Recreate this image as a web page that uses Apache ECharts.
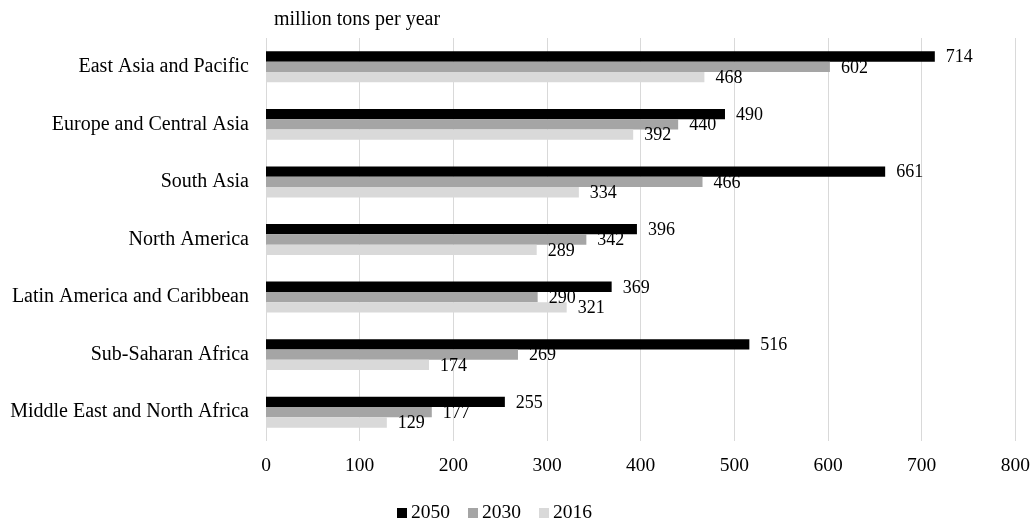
<!DOCTYPE html>
<html>
<head>
<meta charset="utf-8">
<script src="https://cdn.jsdelivr.net/npm/echarts@6/dist/echarts.min.js"></script>
<style>
  html, body { margin: 0; padding: 0; background: #fff; }
  #chart { width: 1033px; height: 520px; }
</style>
</head>
<body>
<div id="chart"></div>
<script>
// Regions, listed top to bottom
const regions = [
  'East Asia and Pacific',
  'Europe and Central Asia',
  'South Asia',
  'North America',
  'Latin America and Caribbean',
  'Sub-Saharan Africa',
  'Middle East and North Africa'
];
// Waste generation, million tons per year
const values2050 = [714, 490, 661, 396, 369, 516, 255];
const values2030 = [602, 440, 466, 342, 290, 269, 177];
const values2016 = [468, 392, 334, 289, 321, 174, 129];
const xTicks = [0, 100, 200, 300, 400, 500, 600, 700, 800];

const serif = '"Liberation Serif", "Times New Roman", serif';

function barSeries(name, data, color) {
  return {
    name: name,
    type: 'bar',
    data: data,
    barWidth: 10.3,
    barGap: '0%',
    barCategoryGap: '46%',
    itemStyle: { color: color },
    label: {
      show: true,
      position: 'right',
      distance: 11,
      offset: [0, 1],
      color: '#000',
      fontFamily: serif,
      fontSize: 18
    }
  };
}

const chart = echarts.init(document.getElementById('chart'), null, { renderer: 'canvas' });
chart.setOption({
  animation: false,
  textStyle: { fontFamily: serif },
  title: {
    text: 'million tons per year',
    left: 269,
    top: 5,
    textStyle: { fontFamily: serif, fontSize: 20, fontWeight: 'normal', color: '#000' }
  },
  legend: {
    top: 498,
    left: 392,
    itemWidth: 10,
    itemHeight: 10,
    itemGap: 18,
    icon: 'rect',
    textStyle: { fontFamily: serif, fontSize: 19.5, color: '#000', padding: [0, 0, 0, -1] },
    data: ['2050', '2030', '2016']
  },
  grid: { left: 266, right: 16, top: 38, bottom: 79, containLabel: false },
  xAxis: {
    type: 'value',
    min: xTicks[0],
    max: xTicks[xTicks.length - 1],
    interval: 100,
    axisLine: { show: false },
    axisTick: { show: false },
    splitLine: { show: true, lineStyle: { color: '#d9d9d9', width: 1 } },
    axisLabel: { color: '#000', fontFamily: serif, fontSize: 19.5, margin: 15 }
  },
  yAxis: {
    type: 'category',
    inverse: true,
    data: regions,
    axisLine: { show: false },
    axisTick: { show: false },
    axisLabel: { color: '#000', fontFamily: serif, fontSize: 20, margin: 17 }
  },
  series: [
    barSeries('2050', values2050, '#000000'),
    barSeries('2030', values2030, '#a5a5a5'),
    barSeries('2016', values2016, '#d9d9d9')
  ]
});
</script>
</body>
</html>
